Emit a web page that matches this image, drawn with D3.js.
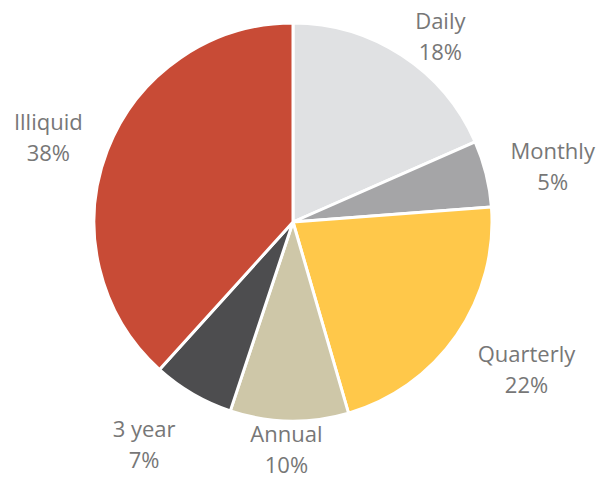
<!DOCTYPE html>
<html>
<head>
<meta charset="utf-8">
<script src="https://cdn.jsdelivr.net/npm/d3@7"></script>
<style>
  body { margin: 0; background: #fff; }
  svg { display: block; }
</style>
</head>
<body>
<div id="chart"></div>
<script>
// data
const categories = ['Daily', 'Monthly', 'Quarterly', 'Annual', '3 year', 'Illiquid']
const shares = [18.4, 5.4, 21.7, 9.6, 6.6, 38.3]
const colors = ['#e0e1e3', '#a5a5a7', '#ffc84a', '#cec7a8', '#4d4d4f', '#c84b36']

// label nudges (Excel places outside-end labels by their box)
const labelNudge = [[14, 18], [23, 3], [33, 8], [-2, -17], [-26, 11], [-17, 3]]

const width = 600
const height = 480
const cx = 293
const cy = 222
const radius = 199

const svg = d3.select('#chart')
  .append('svg')
  .attr('width', width)
  .attr('height', height)

const g = svg.append('g')
  .attr('transform', `translate(${cx},${cy})`)

const data = categories.map((c, i) => ({ name: c, value: shares[i], color: colors[i], i }))

const pie = d3.pie()
  .sort(null)
  .value(d => d.value)

const arc = d3.arc()
  .innerRadius(0)
  .outerRadius(radius)

const labelArc = d3.arc()
  .innerRadius(radius + 45)
  .outerRadius(radius + 45)

const arcs = pie(data)

g.selectAll('path')
  .data(arcs)
  .join('path')
  .attr('d', arc)
  .attr('fill', d => d.data.color)
  .attr('stroke', '#fff')
  .attr('stroke-width', 3)
  .attr('stroke-linejoin', 'round')

// **labels**
const labels = g.selectAll('g.label')
  .data(arcs)
  .join('g')
  .attr('class', 'label')
  .attr('transform', d => {
    const [x, y] = labelArc.centroid(d)
    const [nx, ny] = labelNudge[d.data.i]
    return `translate(${x + nx},${y + ny})`
  })

labels.append('text')
  .attr('text-anchor', 'middle')
  .attr('y', -7)
  .style('font-family', '"Open Sans", sans-serif')
  .style('font-size', '22px')
  .style('fill', '#777')
  .text(d => d.data.name)

labels.append('text')
  .attr('text-anchor', 'middle')
  .attr('y', 24)
  .style('font-family', '"Open Sans", sans-serif')
  .style('font-size', '22px')
  .style('fill', '#777')
  .text(d => Math.round(d.data.value) + '%')
</script>
</body>
</html>
